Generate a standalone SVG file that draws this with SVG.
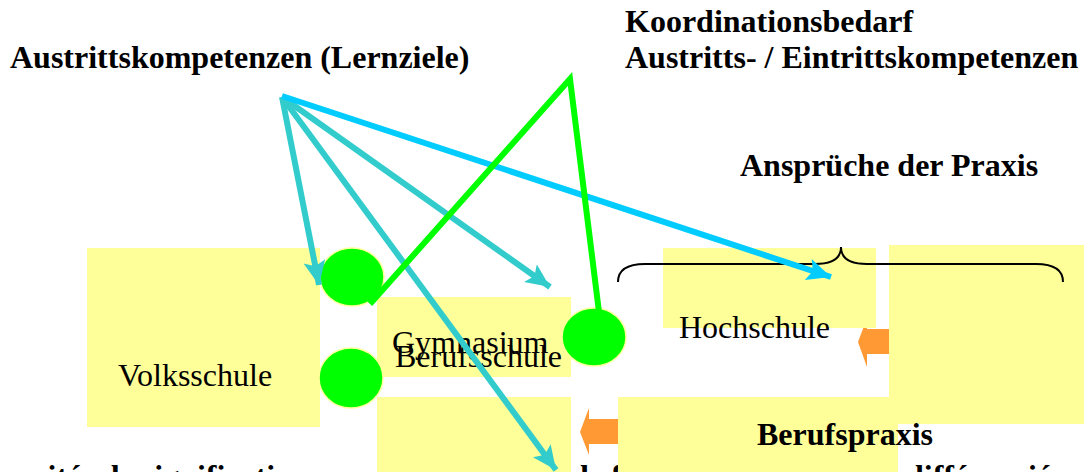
<svg xmlns="http://www.w3.org/2000/svg" width="1084" height="472" viewBox="0 0 1084 472">
<style>
.box{fill:#FFFF99;stroke:none}
.lbl{font-family:"Liberation Serif","Times New Roman",serif;font-size:32px;fill:#000}
.b{font-weight:bold}
.dot{fill:#00FF00;stroke:#FFFF99;stroke-width:1.5}
.teal{stroke:#33CCCC;stroke-width:6;fill:none}
.blue{stroke:#00CCFF;stroke-width:6;fill:none}
.green{stroke:#00FF00;stroke-width:6;fill:none;stroke-linejoin:miter}
.orange{fill:#FF9933}
.brace{stroke:#000;stroke-width:2;fill:none}
</style>
<defs>
<marker id="mt" markerUnits="userSpaceOnUse" markerWidth="26" markerHeight="26" viewBox="0 0 26 26" refX="24" refY="13" orient="auto">
<path d="M0,2 L24,13 L0,24 L5,13 Z" fill="#33CCCC"/>
</marker>
<marker id="mb" markerUnits="userSpaceOnUse" markerWidth="26" markerHeight="26" viewBox="0 0 26 26" refX="24" refY="13" orient="auto">
<path d="M0,2 L24,13 L0,24 L5,13 Z" fill="#00CCFF"/>
</marker>
</defs>

<g id="footer-text">
<text class="lbl b" x="12" y="487">unités de signification</text>
<text class="lbl b" x="571" y="487">de formation</text>
<text class="lbl b" x="906" y="487">différenciées</text>
</g>

<g id="title-lernziele"><text class="lbl b" x="10" y="68">Austrittskompetenzen (Lernziele)</text></g>
<g id="title-koordination"><text class="lbl b" x="625" y="32">Koordinationsbedarf</text><text class="lbl b" x="625" y="68">Austritts- / Eintrittskompetenzen</text></g>
<g id="title-praxis"><text class="lbl b" x="740" y="176">Ansprüche der Praxis</text></g>

<g id="orange-arrows">
<polygon class="orange" points="889,329 867,329 867,318 858,342 867,367 867,354 889,354"/>
<polygon class="orange" points="618,419 589,419 589,408 580,432 589,455 589,444 618,444"/>
</g>

<g id="volksschule"><rect class="box" x="87" y="248" width="233" height="179"/><text class="lbl" x="118" y="386">Volksschule</text></g>
<g id="gymnasium"><rect class="box" x="377" y="297" width="194" height="80"/><text class="lbl" x="392" y="353">Gymnasium</text><text class="lbl" x="395" y="367">Berufsschule</text></g>
<g id="lower-box"><rect class="box" x="377" y="397" width="194" height="80"/></g>
<g id="hochschule"><rect class="box" x="663" y="248" width="213" height="80"/><text class="lbl" x="679" y="338">Hochschule</text></g>
<g id="right-box"><rect class="box" x="889" y="245" width="195" height="179"/></g>
<g id="berufspraxis"><rect class="box" x="618" y="397" width="280" height="80"/><text class="lbl b" x="757" y="445">Berufspraxis</text></g>

<g id="circle-1"><ellipse class="dot" cx="352" cy="277" rx="32" ry="29"/></g>
<g id="circle-2"><ellipse class="dot" cx="351" cy="378" rx="32" ry="30"/></g>
<g id="circle-3"><ellipse class="dot" cx="594" cy="337" rx="32" ry="29"/></g>

<g id="brace"><path class="brace" d="M618,282 C618,270 627,264 645,264 L815,264 C832,264 841,258 841,247 C841,258 850,264 867,264 L1036,264 C1054,264 1063,270 1063,282"/></g>

<g id="connectors">
<line class="teal" x1="282" y1="97" x2="319" y2="285" marker-end="url(#mt)"/>
<line class="teal" x1="282" y1="97" x2="550" y2="287" marker-end="url(#mt)"/>
<line class="teal" x1="282" y1="97" x2="556" y2="470" marker-end="url(#mt)"/>
<line class="blue" x1="282" y1="96" x2="831" y2="277" marker-end="url(#mb)"/>
<polyline class="green" points="370,304 570,79 599,312"/>
</g>
</svg>
